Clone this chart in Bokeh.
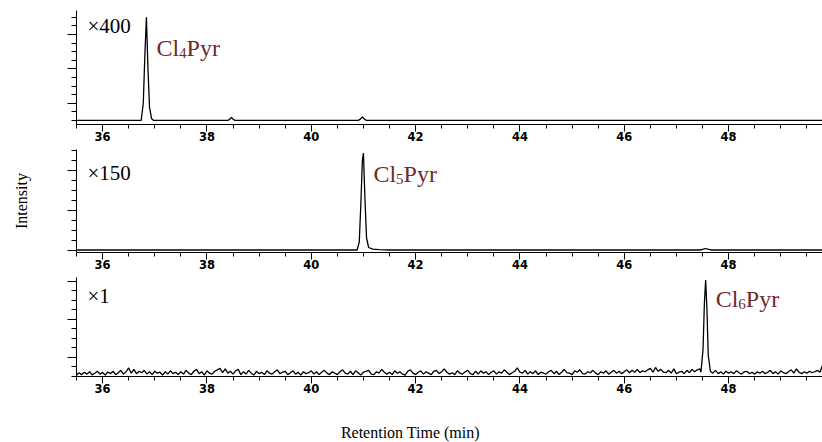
import numpy as np
from bokeh.plotting import figure
from bokeh.models import Range1d, Label, FixedTicker, SingleIntervalTicker, CustomJSTickFormatter
from bokeh.layouts import column
from bokeh.embed import file_html
from bokeh.resources import INLINE

# ---------------- data ----------------
rt_start, rt_end = 35.5, 49.8
x_major_interval = 2

# Panel 1 (Cl4Pyr, x400)
t_cl4 = [35.5, 36.74, 36.78, 36.81, 36.84, 36.87, 36.90, 36.94, 36.98,
         38.40, 38.44, 38.47, 38.50, 38.54, 40.90, 40.94, 40.98, 41.02, 41.06, 49.8]
i_cl4 = [0.0, 0.0, 2.0, 7.5, 12.0, 6.0, 1.5, 0.2, 0.0,
         0.0, 0.15, 0.35, 0.15, 0.0, 0.0, 0.15, 0.4, 0.15, 0.0, 0.0]

# Panel 2 (Cl5Pyr, x150)
t_cl5 = [35.5, 40.88, 40.92, 40.95, 40.98, 41.00, 41.03, 41.06, 41.10, 41.18, 41.30, 41.50,
         47.45, 47.52, 47.56, 47.60, 47.68, 49.8]
i_cl5 = [0.0, 0.0, 0.8, 4.5, 9.0, 9.7, 5.0, 1.2, 0.25, 0.08, 0.03, 0.0,
         0.0, 0.08, 0.15, 0.08, 0.0, 0.0]

# Panel 3 (Cl6Pyr, x1): noisy baseline sampled every 0.05 min from 35.5, plus peak
noise_t0, noise_dt = 35.5, 0.05
noise_cl6 = [
    0.1, 0.35, 0.15, 0.4, 0.2, 0.45, 0.12, 0.3, 0.5, 0.2, 0.38, 0.1, 0.42, 0.25, 0.5, 0.15, 0.35, 0.6, 0.2, 0.45,
    0.85, 0.3, 0.7, 0.25, 0.5, 0.35, 0.6, 0.2, 0.45, 0.15, 0.5, 0.3, 0.4, 0.1, 0.45, 0.2, 0.55, 0.25, 0.4, 0.15,
    0.45, 0.2, 0.6, 0.3, 0.15, 0.5, 0.7, 0.25, 0.45, 0.1, 0.55, 0.3, 0.2, 0.5, 0.65, 0.8, 0.35, 0.75, 0.3, 0.5,
    0.2, 0.55, 0.7, 0.15, 0.45, 0.2, 0.6, 0.3, 0.1, 0.5, 0.25, 0.4, 0.15, 0.55, 0.3, 0.2, 0.45, 0.65, 0.25, 0.4,
    0.5, 0.15, 0.35, 0.55, 0.2, 0.4, 0.1, 0.45, 0.25, 0.35, 0.55, 0.2, 0.45, 0.15, 0.4, 0.6, 0.3, 0.15, 0.45, 0.3,
    0.15, 0.45, 0.65, 0.3, 0.2, 0.5, 0.15, 0.55, 0.35, 0.1, 0.4, 0.5, 0.6, 0.2, 0.15, 0.45, 0.3, 0.7, 0.4, 0.2,
    0.4, 0.15, 0.55, 0.3, 0.45, 0.2, 0.1, 0.5, 0.65, 0.3, 0.15, 0.4, 0.55, 0.2, 0.45, 0.3, 0.15, 0.5, 0.6, 0.25,
    0.45, 0.75, 0.4, 0.2, 0.35, 0.15, 0.55, 0.3, 0.2, 0.45, 0.6, 0.25, 0.15, 0.5, 0.2, 0.55, 0.3, 0.45, 0.15, 0.4,
    0.55, 0.2, 0.45, 0.3, 0.65, 0.4, 0.15, 0.35, 0.5, 0.85, 0.4, 0.3, 0.6, 0.2, 0.45, 0.25, 0.55, 0.15, 0.4, 0.3,
    0.2, 0.45, 0.6, 0.25, 0.5, 0.15, 0.4, 0.7, 0.35, 0.3, 0.15, 0.55, 0.4, 0.65, 0.25, 0.2, 0.45, 0.35, 0.6, 0.3,
    0.15, 0.45, 0.3, 0.55, 0.2, 0.4, 0.6, 0.3, 0.5, 0.25, 0.45, 0.65, 0.35, 0.6, 0.4, 0.7, 0.35, 0.55, 0.45, 0.65,
    0.8, 0.4, 0.9, 0.5, 0.7, 0.4, 0.35, 0.6, 0.3, 0.75, 0.25, 0.4, 0.5, 0.25, 0.6, 0.35, 0.7, 0.45, 0.65, 0.75,
    0.8, 0.65, 0.5, 0.4, 0.3, 0.6, 0.25, 0.45, 0.2, 0.5, 0.3, 0.45, 0.25, 0.55, 0.35, 0.2, 0.45, 0.5, 0.25, 0.4,
    0.2, 0.45, 0.3, 0.5, 0.25, 0.4, 0.6, 0.25, 0.45, 0.2, 0.55, 0.35, 0.25, 0.45, 0.65, 0.3, 0.75, 0.4, 0.25, 0.45,
    0.3, 0.5, 0.35, 0.45, 0.6, 0.4, 1.1,
]
t_cl6_peak = [47.47, 47.51, 47.535, 47.56, 47.585, 47.61, 47.65]
i_cl6_peak = [0.4, 2.8, 7.5, 10.1, 7.0, 2.2, 0.5]

peak_rt = [36.84, 41.0, 47.56]
scale_labels = ["\u00d7400", "\u00d7150", "\u00d71"]
compound_sub = ["4", "5", "6"]
x_title = "Retention Time (min)"
y_title = "Intensity"

# ---------------- build ----------------
nt = noise_t0 + noise_dt * np.arange(len(noise_cl6))
nv = np.array(noise_cl6)
keep = (nt < t_cl6_peak[0] - 0.01) | (nt > t_cl6_peak[-1] + 0.01)
t_cl6 = np.concatenate([nt[keep], t_cl6_peak])
i_cl6 = np.concatenate([nv[keep], i_cl6_peak])
order = np.argsort(t_cl6)
t_cl6, i_cl6 = t_cl6[order], i_cl6[order]

xr = Range1d(rt_start, rt_end)
SERIF = "Liberation Serif"
RED = "#6e2a2a"
AX_EXT = 25
LBL_DY = 8


def panel(height, mb_top, mb_bottom, ylo, yhi, ymaj, ymin_top, t, y):
    p = figure(width=822, height=height, x_range=xr, y_range=Range1d(ylo, yhi),
               output_backend="svg", toolbar_location=None,
               min_border_left=76, min_border_right=0,
               min_border_top=mb_top, min_border_bottom=mb_bottom)
    p.outline_line_color = None
    p.grid.visible = False
    p.background_fill_color = "white"
    p.border_fill_color = "white"

    xa = p.xaxis[0]
    xa.ticker = SingleIntervalTicker(interval=x_major_interval, num_minor_ticks=4)
    xa.major_tick_in = 0
    xa.minor_tick_in = 0
    xa.major_tick_out = 7
    xa.minor_tick_out = 4
    xa.major_label_standoff = 0
    xa.major_label_text_font = "DejaVu Sans"
    xa.major_label_text_font_style = "bold"
    xa.major_label_text_font_size = "11.5px"
    xa.major_label_text_color = "black"
    xa.axis_line_color = "black"

    ya = p.yaxis[0]
    ya.ticker = FixedTicker(ticks=ymaj, minor_ticks=list(range(0, ymin_top + 1)))
    ya.formatter = CustomJSTickFormatter(code="return ''")
    ya.major_tick_in = 0
    ya.minor_tick_in = 0
    ya.major_tick_out = 9
    ya.minor_tick_out = 5
    ya.major_label_standoff = 0

    p.line(t, y, line_color="black", line_width=1.3)
    return p


p1 = panel(149, 10, AX_EXT, -0.47, 12.79, [2, 6, 10], 12, t_cl4, i_cl4)
p2 = panel(128, 0, AX_EXT, -0.25, 10.05, [0, 4, 8], 10, t_cl5, i_cl5)
p3 = panel(124, 0, AX_EXT, -0.05, 10.37, [2, 6, 10], 10, t_cl6, i_cl6)

scale_ys = [10.1, 6.95, 7.6]
name_ys = [7.44, 6.85, 7.3]
for p, rt, sub, sl, sy, ny in zip([p1, p2, p3], peak_rt, compound_sub, scale_labels, scale_ys, name_ys):
    p.add_layout(Label(x=rt_start, y=sy, x_offset=11, y_offset=LBL_DY, text=sl,
                       text_font=SERIF, text_font_size="21px", text_color="black",
                       text_baseline="alphabetic"))
    p.add_layout(Label(x=rt, y=ny, x_offset=10, y_offset=LBL_DY, text="Cl", text_font=SERIF,
                       text_font_size="24px", text_color=RED, text_baseline="alphabetic"))
    p.add_layout(Label(x=rt, y=ny, x_offset=10 + 22.7, y_offset=LBL_DY - 5, text=sub, text_font=SERIF,
                       text_font_size="15px", text_color=RED, text_baseline="alphabetic"))
    p.add_layout(Label(x=rt, y=ny, x_offset=10 + 22.7 + 7.5, y_offset=LBL_DY, text="Pyr", text_font=SERIF,
                       text_font_size="24px", text_color=RED, text_baseline="alphabetic"))

ya2 = p2.yaxis[0]
ya2.axis_label = y_title
ya2.axis_label_standoff = 38
ya2.axis_label_text_font = SERIF
ya2.axis_label_text_font_size = "16px"
ya2.axis_label_text_font_style = "normal"
ya2.axis_label_text_color = "black"

# strip holding the x-axis title, sharing the time scale
p4 = figure(width=822, height=41, x_range=xr, y_range=Range1d(0, 1),
            output_backend="svg", toolbar_location=None,
            x_axis_location=None, y_axis_location=None,
            min_border_left=76, min_border_right=0, min_border_top=0, min_border_bottom=0)
p4.outline_line_color = None
p4.grid.visible = False
p4.add_layout(Label(x=41.9, y=0.25, text=x_title, text_font=SERIF, text_font_size="16px",
                    text_color="black", text_align="center", text_baseline="middle"))

layout = column(p1, p2, p3, p4, spacing=0)
open("out.html", "w").write(file_html(layout, INLINE))
